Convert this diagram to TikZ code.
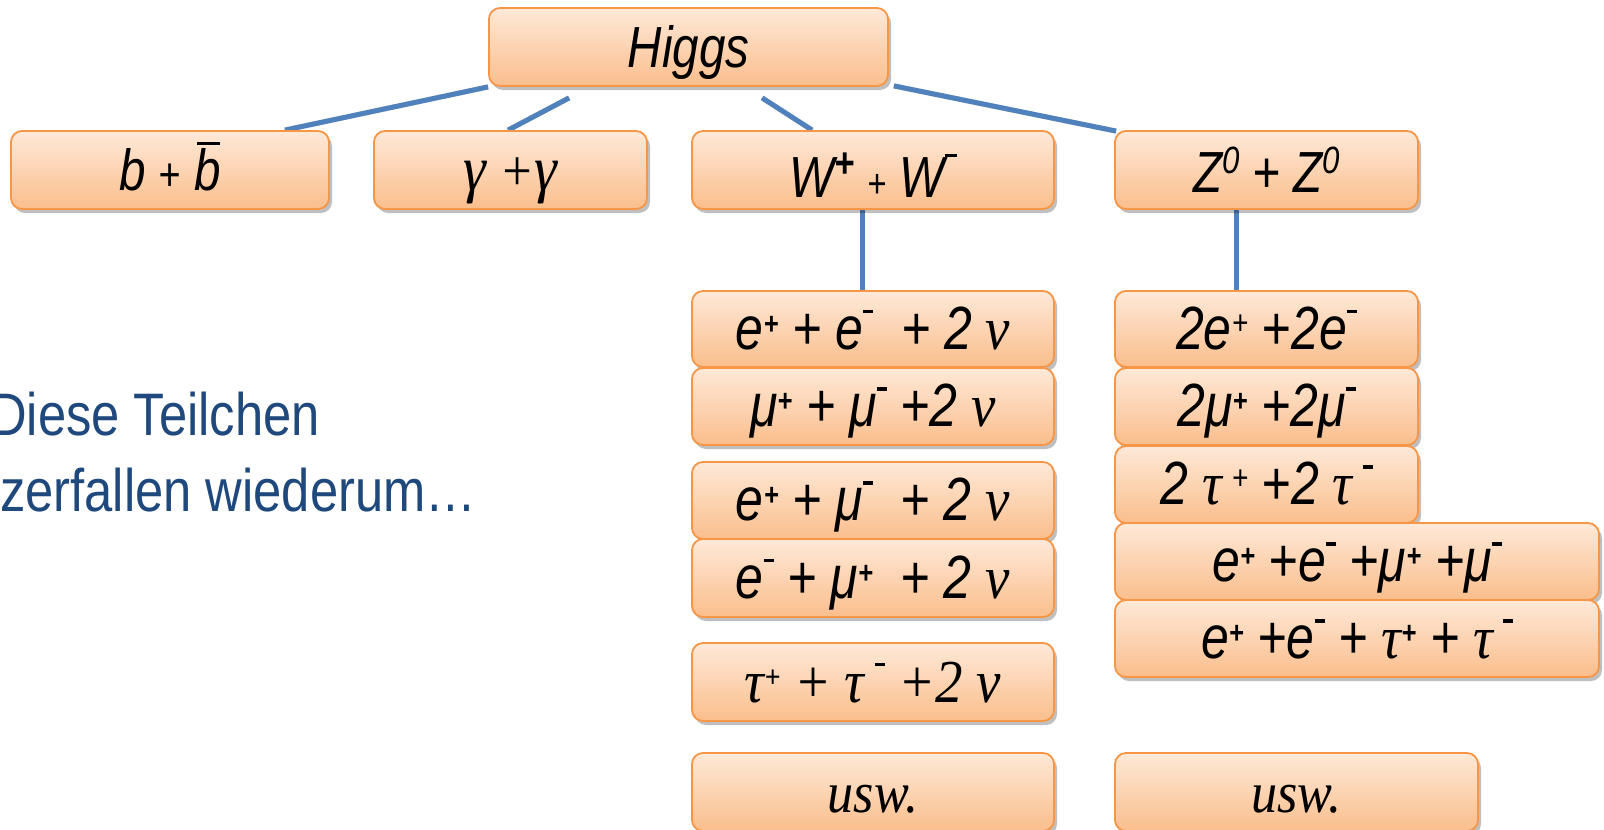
\documentclass[tikz,border=0pt]{standalone}
\usepackage{fontspec}
\setmainfont{Liberation Sans}
\newfontfamily\narsans{Liberation Sans}[FakeStretch=0.82]
\newfontfamily\lefsans{Liberation Sans}[FakeStretch=0.845]
\newfontfamily\narserif{Liberation Serif}[FakeStretch=0.9]
\usetikzlibrary{shadows,calc}
\pgfdeclarelayer{bg}
\pgfsetlayers{bg,main}
\definecolor{boxline}{RGB}{247,150,70}
\definecolor{boxtop}{RGB}{254,233,216}
\definecolor{boxbot}{RGB}{250,190,140}
\definecolor{connblue}{RGB}{79,129,189}
\definecolor{txtblue}{RGB}{31,73,125}
\newcommand{\fs}[1]{\fontsize{#1}{#1}\selectfont}
\newcommand{\tg}[1]{{\narserif\itshape #1}}
\newcommand{\splus}[1][15]{\raisebox{#1pt}{\bfseries\fs{31}+}}
\newcommand{\smin}[1][36]{\raisebox{#1pt}{\rule{10pt}{3.5pt}}}
\newcommand{\bbar}{\rlap{\hspace{3pt}\raisebox{45pt}{\rule{23pt}{3pt}}}b}
\tikzset{
  box/.style={draw=boxline, line width=1.8pt, rounded corners=11pt,
    top color=boxtop, bottom color=boxbot, inner sep=0pt,
    text height=40pt, text depth=0pt, minimum height=77pt,
    font=\narsans\itshape\fs{58},
    drop shadow={shadow xshift=3pt, shadow yshift=-4pt, opacity=0.25, fill=black}},
  lep/.style={font=\narsans\itshape\fs{61}},
  connshadow/.style={draw=black!20, line width=5pt},
  conn/.style={draw=connblue, line width=5pt},
  lefttext/.style={anchor=base west, inner sep=0pt, text=txtblue, font=\lefsans\fs{60}}
}
\begin{document}
\begin{tikzpicture}[x=1pt,y=-1pt]
\useasboundingbox (0,0) rectangle (1604,830);

% top
\node[box, minimum width=399pt, minimum height=78pt] (higgs) at (688.5,47) {Higgs};
\node[box, minimum width=318pt, minimum height=78pt] (bb) at (170,170) {b {\fs{46}+} \bbar};
\node[box, minimum width=273pt, minimum height=78pt] (gg) at (510.5,170) {\tg{\fs{64}γ} {\narserif +}\tg{\fs{64}γ}};
\node[box, minimum width=362pt, minimum height=78pt, text height=54pt] (WW) at (873,170)
  {W\raisebox{20pt}{\bfseries\fs{42}+} {\fs{40}+} W\raisebox{40pt}{\rule{12pt}{3.5pt}}};
\node[box, minimum width=303pt, minimum height=78pt, text height=44pt] (ZZ) at (1266.5,170)
  {Z\raisebox{19pt}{\fs{38}0} + Z\raisebox{19pt}{\fs{38}0}};

% W column
\node[box, lep, minimum width=362pt, minimum height=76pt] (w1) at (873,329) {e\splus{} + e\smin{} \ + 2 \tg{ν}};
\node[box, lep, minimum width=362pt] (w2) at (873,406.5) {μ\splus{} + μ\smin{} +2 \tg{ν}};
\node[box, lep, minimum width=362pt] (w3) at (873,500.5) {e\splus{} + μ\smin{} \ + 2 \tg{ν}};
\node[box, lep, minimum width=362pt, minimum height=78pt] (w4) at (873,578) {e\smin{} + μ\splus{} \ + 2 \tg{ν}};
\node[box, lep, minimum width=362pt, minimum height=78pt] (w5) at (873,682) {\tg{τ\splus{} + τ\,\smin{} +2 ν}};
\node[box, minimum width=362pt, minimum height=78pt] (w6) at (873,792) {\tg{usw.}};

% Z column
\node[box, lep, minimum width=303pt, minimum height=76pt] (z1) at (1266.5,329) {2e\raisebox{15pt}{\fs{34}+} +2e\smin};
\node[box, lep, minimum width=303pt] (z2) at (1266.5,406.5) {2μ\splus{} +2μ\smin};
\node[box, lep, minimum width=303pt] (z3) at (1266.5,484.5) {2 \tg{τ}\,\raisebox{15pt}{\fs{34}+} +2 \tg{τ}\,\smin};
\node[box, lep, minimum width=484pt] (z4) at (1357,561.5) {e\splus{} +e\smin{} +μ\splus{} +μ\smin};
\node[box, lep, minimum width=484pt] (z5) at (1357,638.5) {e\splus{} +e\smin{} + \tg{τ}\splus{} + \tg{τ}\,\smin};
\node[box, minimum width=363pt, minimum height=78pt] (z6) at (1296.5,792) {\tg{usw.}};

% left text
\node[lefttext] (t1) at (-10,435) {Diese Teilchen};
\node[lefttext] (t2) at (0,511) {zerfallen wiederum…};

% background and connectors
\begin{pgfonlayer}{bg}
\fill[white] (0,0) rectangle (1604,830);
\begin{scope}[shift={(1.5,2)}]
\draw[connshadow] (higgs.south west) -- ($(bb.north east)+(-45,0)$);
\draw[connshadow] ($(higgs.south west)+(81,11)$) -- ($(gg.north west)+(135,0)$);
\draw[connshadow] ($(higgs.south west)+(274,11)$) -- ($(WW.north west)+(121,0)$);
\draw[connshadow] ($(higgs.south east)+(5,-1)$) -- ($(ZZ.north west)+(2,1)$);
\draw[connshadow] ($(WW.south)+(-11,0)$) -- ($(w1.north)+(-11,0)$);
\draw[connshadow] ($(ZZ.south)+(-30.5,0)$) -- ($(z1.north)+(-30.5,0)$);
\end{scope}
\draw[conn] (higgs.south west) -- ($(bb.north east)+(-45,0)$);
\draw[conn] ($(higgs.south west)+(81,11)$) -- ($(gg.north west)+(135,0)$);
\draw[conn] ($(higgs.south west)+(274,11)$) -- ($(WW.north west)+(121,0)$);
\draw[conn] ($(higgs.south east)+(5,-1)$) -- ($(ZZ.north west)+(2,1)$);
\draw[conn] ($(WW.south)+(-11,0)$) -- ($(w1.north)+(-11,0)$);
\draw[conn] ($(ZZ.south)+(-30.5,0)$) -- ($(z1.north)+(-30.5,0)$);
\end{pgfonlayer}
\end{tikzpicture}
\end{document}
